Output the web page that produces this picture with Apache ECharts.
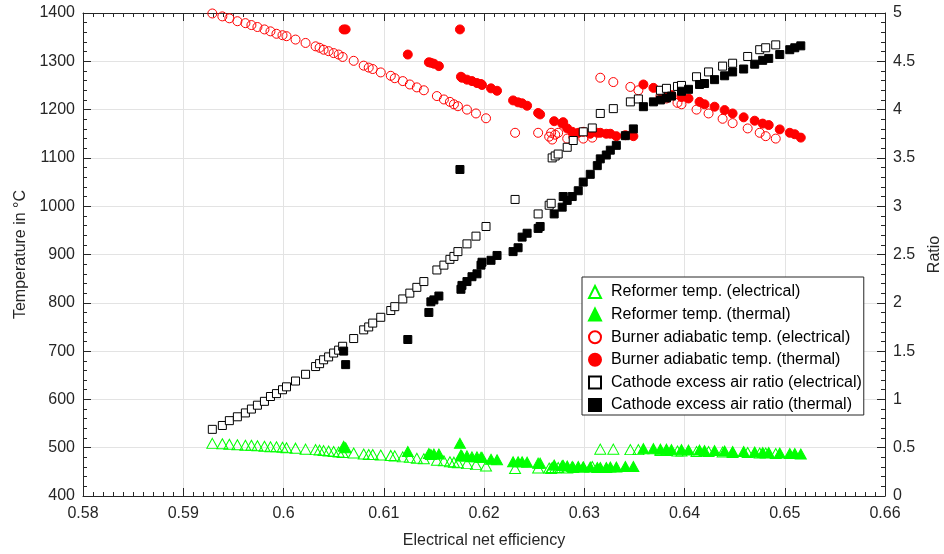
<!DOCTYPE html>
<html><head><meta charset="utf-8">
<script src="https://cdn.jsdelivr.net/npm/echarts@6/dist/echarts.min.js"></script>
<style>html,body{margin:0;padding:0;background:#fff}#c{width:944px;height:554px}</style>
</head><body><div id="c"></div>
<script>
// Electrical-mode operating points
const elecX = [0.5929,0.5939,0.5946,0.5954,0.5962,0.5968,0.5974,0.5981,0.5987,0.5993,0.5999,0.6003,0.6012,0.6022,0.6032,0.6036,0.6040,0.6045,0.6050,0.6055,0.6059,0.6070,0.6080,0.6085,0.6089,0.6097,0.6107,0.6111,0.6119,0.6126,0.6133,0.6140,0.6153,0.6160,0.6166,0.6170,0.6174,0.6183,0.6192,0.6202,
  0.6231,0.6254,0.6265,0.6267,0.6268,0.6271,0.6274,0.6283,0.6289,0.6299,0.6308,
  0.6316,0.6329,0.6346,0.6354,0.6376,0.6382,0.6393,0.6397,0.6412,0.6424,0.6438,0.6448,0.6463,0.6475,0.6481,0.6491];
const elecBurner = [1399,1393,1389,1383,1379,1375,1371,1366,1362,1357,1354,1352,1345,1338,1331,1328,1324,1321,1317,1314,1309,1301,1291,1287,1284,1277,1270,1265,1259,1252,1246,1240,1228,1221,1216,1211,1207,1200,1192,1182,
  1152,1152,1144,1152,1138,1148,1152,1140,1144,1140,1142,
  1266,1257,1247,1240,1228,1223,1214,1211,1200,1192,1181,1172,1161,1152,1145,1140];
const elecCathode = [0.69,0.73,0.78,0.82,0.86,0.90,0.94,0.98,1.03,1.06,1.10,1.13,1.19,1.26,1.34,1.37,1.41,1.44,1.48,1.51,1.55,1.63,1.72,1.75,1.79,1.85,1.92,1.96,2.04,2.10,2.16,2.22,2.34,2.39,2.45,2.48,2.53,2.61,2.69,2.79,
  3.07,2.92,3.01,3.03,3.50,3.52,3.54,3.61,3.68,3.77,3.81,
  3.96,4.01,4.08,4.11,4.20,4.22,4.24,4.25,4.34,4.39,4.45,4.48,4.55,4.62,4.64,4.67];
const elecReformer = [509,508,507,506,505,505,504,503,502,502,501,500,499,497,496,495,494,493,492,491,490,489,487,486,486,485,484,483,481,480,478,477,474,473,471,470,469,467,465,462,
  457,458,458,457,459,458,459,458,459,460,461,
  497,497,496,496,494,494,493,493,492,492,491,490,490,489,489,488];

// Thermal-mode operating points
const thermX = [0.6060,0.6062,0.6124,0.6145,0.6147,0.6150,0.6155,0.6176,0.6177,0.6178,0.6183,0.6188,0.6193,0.6197,0.6198,0.6207,0.6213,
  0.6229,0.6234,0.6238,0.6243,0.6254,0.6256,0.6270,0.6278,0.6279,0.6283,0.6288,0.6294,0.6299,0.6306,0.6313,0.6316,0.6322,0.6326,0.6332,0.6341,0.6349,
  0.6359,0.6369,0.6376,0.6382,0.6387,0.6397,0.6404,0.6415,0.6420,0.6430,0.6440,0.6448,0.6459,0.6470,0.6478,0.6484,0.6495,0.6505,0.6510,0.6516];
const thermBurner = [1366,1366,1314,1298,1297,1295,1290,1366,1268,1266,1262,1259,1255,1253,1251,1244,1239,
  1219,1215,1213,1208,1193,1190,1176,1171,1174,1161,1154,1152,1154,1150,1152,1152,1150,1150,1145,1147,1145,
  1252,1245,1238,1233,1230,1226,1223,1216,1211,1206,1199,1192,1184,1177,1171,1168,1159,1152,1149,1142];
const thermCathode = [1.50,1.36,1.62,1.90,2.01,2.03,2.07,3.38,2.14,2.18,2.22,2.27,2.30,2.39,2.42,2.44,2.49,
  2.53,2.57,2.68,2.72,2.77,2.79,2.92,2.99,3.10,3.06,3.10,3.16,3.25,3.33,3.42,3.49,3.53,3.58,3.63,3.73,3.80,
  4.03,4.08,4.10,4.12,4.14,4.19,4.21,4.26,4.27,4.31,4.35,4.39,4.42,4.47,4.51,4.53,4.57,4.62,4.64,4.66];
const thermReformer = [503,500,492,488,486,487,487,509,485,483,483,481,481,480,480,476,475,
  471,471,471,470,468,468,464,463,463,462,461,461,460,460,459,459,459,460,460,461,461,
  498,498,497,497,496,496,495,495,494,494,493,492,492,491,490,490,489,488,488,487];

const xTicks = {min:0.58, max:0.66, interval:0.01};
const yTicks = {min:400, max:1400, interval:100};
const rTicks = {min:0, max:5, interval:0.5};

const names = ['Reformer temp. (electrical)','Reformer temp. (thermal)','Burner adiabatic temp. (electrical)','Burner adiabatic temp. (thermal)','Cathode excess air ratio (electrical)','Cathode excess air ratio (thermal)'];

const zip = (a,b) => a.map((v,i)=>[v,b[i]]);
const txt = '#262626';
const font = 'Liberation Sans, Arial, sans-serif';
const plain = v => String(+v.toFixed(4));

const chart = echarts.init(document.getElementById('c'), null, {renderer:'canvas'});
const axisCommon = {
  axisLine:{show:true,onZero:false,lineStyle:{color:txt,width:1}},
  axisTick:{show:true,inside:true,length:8,lineStyle:{color:txt}},
  minorTick:{show:true,splitNumber:10,length:4,lineStyle:{color:txt}}
};
const lbl = (m) => ({color:txt,fontSize:16,fontFamily:font,margin:m,formatter:plain});
chart.setOption({
  animation:false,
  backgroundColor:'#fff',
  grid:{left:83,right:59,top:13,bottom:58,show:false,outerBoundsMode:'none',containLabel:false},
  legend:{
    orient:'vertical', left:582, top:277,
    backgroundColor:'#fff', borderColor:'#262626', borderWidth:1,
    padding:[7,2,2,6], itemGap:6.6, itemWidth:12, itemHeight:12,
    textStyle:{color:'#000',fontSize:16,fontFamily:font,padding:[0,0,0,5]},
    data:names
  },
  xAxis:[
    Object.assign({type:'value',position:'bottom',min:xTicks.min,max:xTicks.max,interval:xTicks.interval,
      name:'Electrical net efficiency',nameLocation:'middle',nameGap:37,
      nameTextStyle:{color:txt,fontSize:16,fontFamily:font},
      splitLine:{show:true,lineStyle:{color:'#e3e3e3'}}},axisCommon,{axisLabel:lbl(10)}),
    Object.assign({type:'value',position:'top',min:xTicks.min,max:xTicks.max,interval:xTicks.interval,
      splitLine:{show:false}},axisCommon,{axisLabel:{show:false}})
  ],
  yAxis:[
    Object.assign({type:'value',position:'left',min:yTicks.min,max:yTicks.max,interval:yTicks.interval,
      name:'Temperature in °C',nameLocation:'middle',nameGap:54,
      nameTextStyle:{color:txt,fontSize:16,fontFamily:font},
      splitLine:{show:true,lineStyle:{color:'#e3e3e3'}}},axisCommon,
      {minorTick:{show:true,splitNumber:5,length:4,lineStyle:{color:txt}},axisLabel:lbl(8)}),
    Object.assign({type:'value',position:'right',min:rTicks.min,max:rTicks.max,interval:rTicks.interval,
      name:'Ratio',nameLocation:'middle',nameGap:34,
      nameTextStyle:{color:txt,fontSize:16,fontFamily:font},
      splitLine:{show:false}},axisCommon,
      {minorTick:{show:true,splitNumber:5,length:4,lineStyle:{color:txt}},axisLabel:lbl(8)})
  ],
  series:[
    {name:names[0],type:'scatter',xAxisIndex:0,yAxisIndex:0,symbol:'triangle',symbolSize:[11,10],
      itemStyle:{color:'rgba(255,255,255,0)',borderColor:'#00ff00',borderWidth:1,opacity:1},data:zip(elecX,elecReformer)},
    {name:names[1],type:'scatter',xAxisIndex:0,yAxisIndex:0,symbol:'triangle',symbolSize:[11,10],
      itemStyle:{color:'#00ff00',borderColor:'#00ff00',borderWidth:1,opacity:1},data:zip(thermX,thermReformer)},
    {name:names[2],type:'scatter',xAxisIndex:0,yAxisIndex:0,symbol:'circle',symbolSize:9,
      itemStyle:{color:'rgba(255,255,255,0)',borderColor:'#ff0000',borderWidth:1,opacity:1},data:zip(elecX,elecBurner)},
    {name:names[3],type:'scatter',xAxisIndex:0,yAxisIndex:0,symbol:'circle',symbolSize:9,
      itemStyle:{color:'#ff0000',borderColor:'#ff0000',borderWidth:1,opacity:1},data:zip(thermX,thermBurner)},
    {name:names[4],type:'scatter',xAxisIndex:0,yAxisIndex:1,symbol:'rect',symbolSize:8,
      itemStyle:{color:'#ffffff',borderColor:'#000000',borderWidth:1,opacity:1},data:zip(elecX,elecCathode)},
    {name:names[5],type:'scatter',xAxisIndex:0,yAxisIndex:1,symbol:'rect',symbolSize:8,
      itemStyle:{color:'#000000',borderColor:'#000000',borderWidth:1,opacity:1},data:zip(thermX,thermCathode)}
  ]
});
</script></body></html>
